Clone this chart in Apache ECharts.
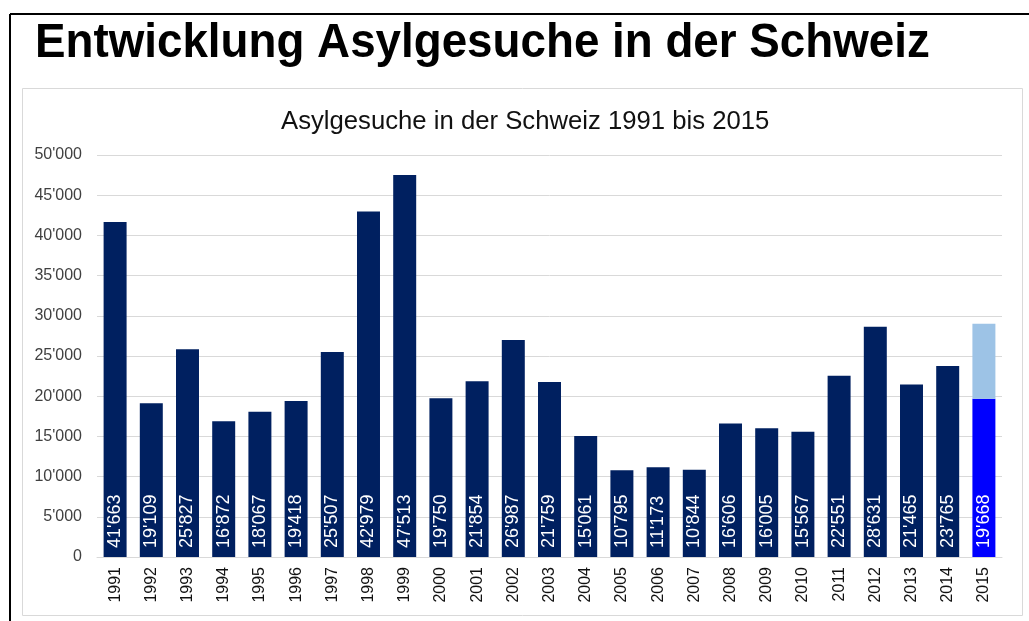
<html>
<head>
<meta charset="UTF-8" />
<title>Asylgesuche Schweiz</title>
<script src="https://cdn.jsdelivr.net/npm/echarts@6/dist/echarts.min.js"></script>
<style type="text/css">
html,body{margin:0;padding:0;background:#fff;}
#main{width:1029px;height:621px;}
</style>
</head>
<body>
<div id="main"></div>
<script type="text/javascript">
// Jahre und Anzahl Gesuche
var years = ['1991','1992','1993','1994','1995','1996','1997','1998','1999','2000','2001','2002','2003','2004','2005','2006','2007','2008','2009','2010','2011','2012','2013','2014','2015'];
var gesuche = [41663,19109,25827,16872,18067,19418,25507,42979,47513,19750,21854,26987,21759,15061,10795,11173,10844,16606,16005,15567,22551,28631,21465,23765,19668];
// Rest 2015 (Hochrechnung), nur letzter Wert
var rest2015 = ['-','-','-','-','-','-','-','-','-','-','-','-','-','-','-','-','-','-','-','-','-','-','-','-',9332];

function fmt(v){
   return String(v).replace(/\B(?=(\d{3})+(?!\d))/g, "'");
}

var barData = gesuche.map(function(v, i){
   if (i === gesuche.length - 1) return {value: v, itemStyle: {color: '#0000ff'}};
   return v;
});

var myChart = echarts.init(document.getElementById('main'));
myChart.setOption({
   animation: false,
   textStyle: {fontFamily: 'Liberation Sans, Arial, sans-serif'},
   title: {
      text: 'Asylgesuche in der Schweiz 1991 bis 2015',
      left: 276,
      top: 104,
      textStyle: {fontSize: 25.7, fontWeight: 'normal', color: '#111', fontFamily: 'Liberation Sans, Arial, sans-serif'}
   },
   graphic: [
      {type: 'line', shape: {x1: 10, y1: 14, x2: 1029, y2: 14}, style: {stroke: '#000', lineWidth: 2}},
      {type: 'line', shape: {x1: 10, y1: 14, x2: 10, y2: 621}, style: {stroke: '#000', lineWidth: 2}},
      {type: 'rect', shape: {x: 22.5, y: 88.5, width: 1000, height: 527}, style: {fill: 'none', stroke: '#d9d9d9', lineWidth: 1}},
      {
         type: 'text', x: 35, y: 20, scaleX: 0.953,
         style: {text: 'Entwicklung Asylgesuche in der Schweiz', fontSize: 48, fontWeight: 'bold', fill: '#000', fontFamily: 'Liberation Sans, Arial, sans-serif'}
      }
   ],
   grid: {left: 97, right: 27, top: 155, bottom: 64, containLabel: false},
   xAxis: {
      type: 'category',
      data: years,
      axisTick: {show: false},
      axisLine: {lineStyle: {color: '#d9d9d9'}},
      axisLabel: {rotate: 90, fontSize: 16, color: '#111', margin: 10}
   },
   yAxis: {
      type: 'value',
      min: 0, max: 50000, interval: 5000,
      axisLabel: {fontSize: 16, color: '#404040', margin: 15, formatter: function(v){ return fmt(v); }},
      splitLine: {lineStyle: {color: '#d9d9d9'}},
      axisLine: {show: false},
      axisTick: {show: false}
   },
   series: [{
      name: 'Asylgesuche',
      type: 'bar',
      stack: 'a',
      barWidth: '63.5%',
      data: barData,
      itemStyle: {color: '#002060'},
      label: {
         show: true,
         position: 'insideBottom',
         rotate: 90,
         align: 'left',
         verticalAlign: 'middle',
         distance: 9,
         color: '#fff',
         fontSize: 18,
         formatter: function(p){ return fmt(p.value); }
      }
   }, {
      name: 'Rest 2015',
      type: 'bar',
      stack: 'a',
      barWidth: '63.5%',
      data: rest2015,
      itemStyle: {color: '#9dc3e6'}
   }]
});
</script>
</body>
</html>
